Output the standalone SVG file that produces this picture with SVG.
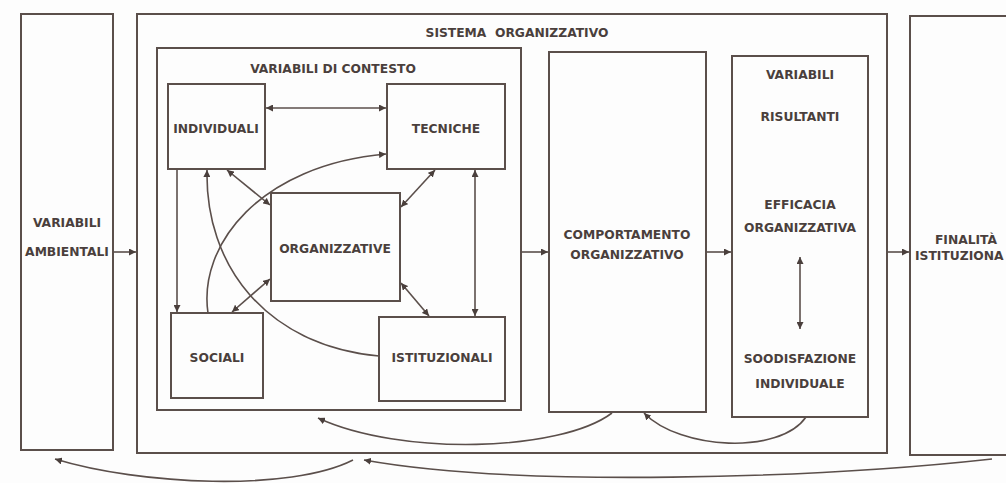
<svg xmlns="http://www.w3.org/2000/svg" width="1006" height="483" viewBox="0 0 1006 483">
<style>
.box{fill:none;stroke:#5b4f4b;stroke-width:2}
.ln{fill:none;stroke:#5b4f4b;stroke-width:1.6}
text{font-family:"DejaVu Sans","Liberation Sans",sans-serif;font-weight:bold;font-size:12.3px;fill:#4a3f3c;text-anchor:middle}
</style>
<defs>
<marker id="ah" viewBox="0 0 10 10" refX="10" refY="5" markerWidth="7" markerHeight="7" markerUnits="userSpaceOnUse" orient="auto-start-reverse">
<path d="M0,0 L10,5 L0,10 z" fill="#4a3f3c"/>
</marker>
</defs>
<rect width="1006" height="483" fill="#fdfdfd"/>
<g id="ambientali"><rect class="box" x="21" y="14" width="92" height="436"/><text x="67" y="227">VARIABILI</text><text x="67" y="256">AMBIENTALI</text></g>
<g id="sistema"><rect class="box" x="137" y="14" width="750" height="439"/><text x="517" y="37" xml:space="preserve">SISTEMA  ORGANIZZATIVO</text></g>
<g id="contesto"><rect class="box" x="157" y="48" width="364" height="362"/><text x="333" y="73">VARIABILI DI CONTESTO</text></g>
<g id="individuali"><rect class="box" x="168" y="84" width="97" height="85"/><text x="216" y="133">INDIVIDUALI</text></g>
<g id="tecniche"><rect class="box" x="387" y="84" width="118" height="85"/><text x="446" y="133">TECNICHE</text></g>
<g id="organizzative"><rect class="box" x="271" y="193" width="129" height="108"/><text x="335" y="253">ORGANIZZATIVE</text></g>
<g id="sociali"><rect class="box" x="171" y="313" width="92" height="85"/><text x="217" y="362">SOCIALI</text></g>
<g id="istituzionali"><rect class="box" x="379" y="317" width="126" height="84"/><text x="442" y="362">ISTITUZIONALI</text></g>
<g id="comportamento"><rect class="box" x="549" y="52" width="157" height="360"/><text x="627" y="239">COMPORTAMENTO</text><text x="627" y="259">ORGANIZZATIVO</text></g>
<g id="risultanti"><rect class="box" x="732" y="56" width="136" height="361"/><text x="800" y="79">VARIABILI</text><text x="800" y="121">RISULTANTI</text><text x="800" y="209">EFFICACIA</text><text x="800" y="232">ORGANIZZATIVA</text><text x="800" y="363">SOODISFAZIONE</text><text x="800" y="388">INDIVIDUALE</text></g>
<g id="finalita"><rect class="box" x="910" y="16" width="110" height="439"/><text x="966" y="244">FINALITÀ</text><text x="915" y="260" style="text-anchor:start">ISTITUZIONA</text></g>
<g id="connectors">
<line class="ln" x1="113" y1="252" x2="136" y2="252" marker-end="url(#ah)"/>
<line class="ln" x1="521" y1="252" x2="548" y2="252" marker-end="url(#ah)"/>
<line class="ln" x1="706" y1="252" x2="731" y2="252" marker-end="url(#ah)"/>
<line class="ln" x1="887" y1="252" x2="909" y2="252" marker-end="url(#ah)"/>
<line class="ln" x1="800" y1="257" x2="800" y2="329" marker-start="url(#ah)" marker-end="url(#ah)"/>
<line class="ln" x1="266" y1="108" x2="386" y2="108" marker-start="url(#ah)" marker-end="url(#ah)"/>
<line class="ln" x1="227" y1="170" x2="270" y2="205" marker-start="url(#ah)" marker-end="url(#ah)"/>
<line class="ln" x1="435" y1="170" x2="401" y2="207" marker-start="url(#ah)" marker-end="url(#ah)"/>
<line class="ln" x1="270" y1="279" x2="232" y2="312" marker-start="url(#ah)" marker-end="url(#ah)"/>
<line class="ln" x1="401" y1="283" x2="429" y2="316" marker-start="url(#ah)" marker-end="url(#ah)"/>
<line class="ln" x1="177" y1="169" x2="177" y2="312" marker-end="url(#ah)"/>
<line class="ln" x1="475" y1="170" x2="475" y2="316" marker-start="url(#ah)" marker-end="url(#ah)"/>
<path class="ln" d="M208,313 C198,245 260,165 386,154" marker-end="url(#ah)"/>
<path class="ln" d="M379,356 C265,345 205,265 207,170" marker-end="url(#ah)"/>
<path class="ln" d="M612,413 C560,452 400,456 318,418" marker-end="url(#ah)"/>
<path class="ln" d="M806,417 C780,455 680,450 644,413" marker-end="url(#ah)"/>
<path class="ln" d="M992,459 C820,478 520,488 364,460" marker-end="url(#ah)"/>
<path class="ln" d="M353,460 C290,492 140,485 55,459" marker-end="url(#ah)"/>
</g>
</svg>
